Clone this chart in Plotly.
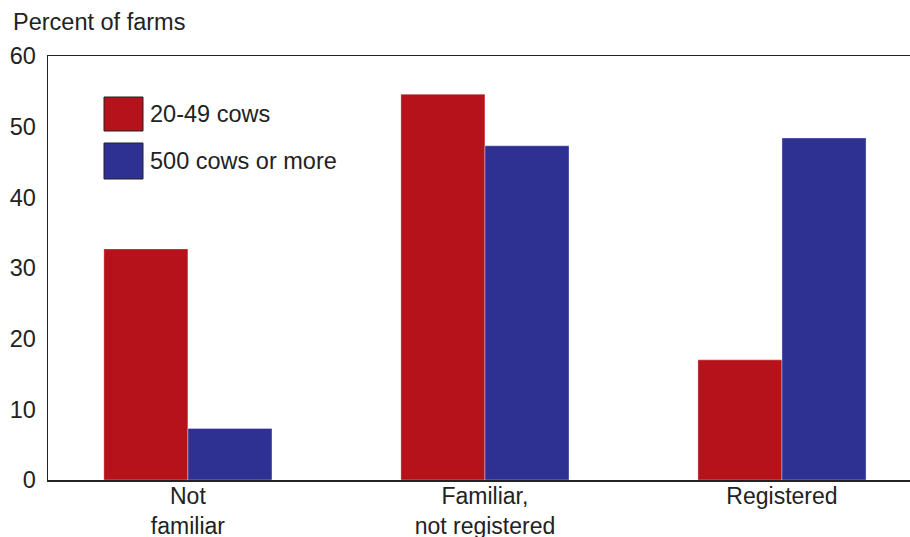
import plotly.graph_objects as go

categories = ["Not<br>familiar", "Familiar,<br>not registered", "Registered"]
series_names = ["20-49 cows", "500 cows or more"]
small_farms = [32.7, 54.6, 17.0]
large_farms = [7.3, 47.3, 48.4]
colors = ["#B5121B", "#2E3192"]
y_ticks = [0, 10, 20, 30, 40, 50, 60]

FONT = "Liberation Sans, Arial, sans-serif"
FS = 23.5

W, H = 910, 537
L, T, B = 48, 56, 57
PW, PH = W - L, H - T - B

fig = go.Figure()
for name, vals, col in zip(series_names, [small_farms, large_farms], colors):
    fig.add_trace(go.Bar(
        x=categories, y=vals, name=name,
        marker=dict(color=col, line=dict(color="rgba(255,255,255,0.35)", width=1)),
        showlegend=False, hoverinfo="skip",
    ))

fig.update_layout(
    template="none",
    width=W, height=H,
    margin=dict(l=L, r=0, t=T, b=B, pad=0),
    paper_bgcolor="white", plot_bgcolor="white",
    barmode="group", bargap=0.434, bargroupgap=0,
    font=dict(family=FONT, size=FS, color="#222222"),
    xaxis=dict(
        type="category", range=[-0.471, 2.431], automargin=False,
        showline=True, linecolor="#222222", linewidth=1.5, mirror=True,
        ticks="", showgrid=False, tickfont=dict(size=FS - 0.5),
        ticklabelstandoff=-5,
    ),
    yaxis=dict(
        range=[0, 60], tickvals=y_ticks, automargin=False,
        showline=True, linecolor="#222222",
        linewidth=1.5, ticks="", showgrid=False, zeroline=False,
        tickfont=dict(size=FS), ticklabelstandoff=6,
    ),
)

def px(xw):
    return (xw - L) / PW

def py(yw):
    return (H - B - yw) / PH

# Title for y axis
fig.add_annotation(
    text="Percent of farms", xref="paper", yref="paper",
    x=px(11), y=py(22), xanchor="left", yanchor="middle",
    showarrow=False, font=dict(size=FS, family=FONT, color="#222222"),
)

# Custom legend with large swatches
legend_boxes = [(97, 131), (143, 179)]
for (top, bot), name, col in zip(legend_boxes, series_names, colors):
    fig.add_shape(type="rect", xref="paper", yref="paper",
                  x0=px(104), x1=px(143), y0=py(bot), y1=py(top),
                  fillcolor=col, line=dict(color="#222222", width=1))
    fig.add_annotation(text=name, xref="paper", yref="paper",
                       x=px(148), y=py((top + bot) / 2), xanchor="left", yanchor="middle",
                       showarrow=False, font=dict(size=FS, family=FONT, color="#222222"))

fig.write_html(
    "out.html",
    config={"displayModeBar": False, "staticPlot": True},
    post_script="document.body.style.margin='0';document.body.style.overflow='hidden';",
)
